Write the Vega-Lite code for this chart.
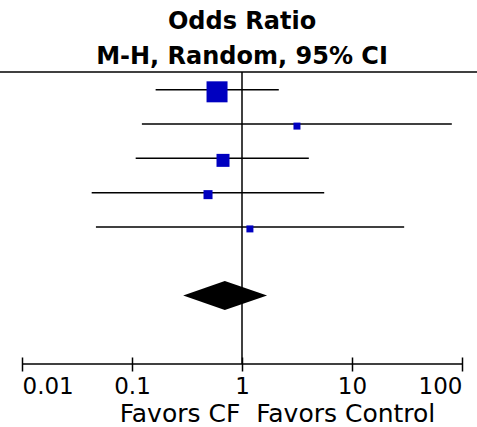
{
  "$schema": "https://vega.github.io/schema/vega-lite/v6.json",
  "width": 440,
  "height": 292,
  "autosize": {"type": "none"},
  "padding": {"left": 22, "top": 72, "right": 15, "bottom": 63},
  "background": "white",
  "config": {"view": {"stroke": null}, "font": "DejaVu Sans"},
  "title": {
    "text": ["Odds Ratio", "M-H, Random, 95% CI"],
    "font": "DejaVu Sans",
    "fontSize": 24,
    "fontWeight": "bold",
    "lineHeight": 35,
    "color": "black",
    "anchor": "middle",
    "offset": 2
  },
  "datasets": {
    "studies": [
      {"study": 1, "or": 0.593, "lo": 0.164, "hi": 2.16, "weight": 55.9},
      {"study": 2, "or": 3.16, "lo": 0.123, "hi": 80.8, "weight": 6.2},
      {"study": 3, "or": 0.672, "lo": 0.108, "hi": 4.05, "weight": 21.4},
      {"study": 4, "or": 0.491, "lo": 0.043, "hi": 5.59, "weight": 10.3},
      {"study": 5, "or": 1.18, "lo": 0.047, "hi": 29.8, "weight": 6.2}
    ],
    "pooled": [
      {"x": 0.292, "y": 7, "y2": 7},
      {"x": 0.698, "y": 6.577, "y2": 7.423},
      {"x": 1.69, "y": 7, "y2": 7}
    ],
    "one": [{}]
  },
  "layer": [
    {
      "data": {"name": "one"},
      "mark": {"type": "rule", "color": "black", "strokeWidth": 1.5, "clip": false},
      "encoding": {
        "x": {"datum": 0.0063, "type": "quantitative", "scale": {"type": "log", "domain": [0.01, 100], "nice": false},
          "axis": {
            "values": [0.01, 0.1, 1, 10, 100],
            "format": "~g",
            "domain": false,
            "grid": false,
            "offset": -7,
            "tickSize": 14,
            "tickWidth": 1.5,
            "tickColor": "black",
            "labelFont": "DejaVu Sans",
            "labelFontSize": 23,
            "labelColor": "black",
            "labelFlush": true,
            "labelPadding": 4,
            "title": "Favors CF\u00a0\u00a0Favors Control",
            "titleFont": "DejaVu Sans",
            "titleFontSize": 25,
            "titleFontWeight": "normal",
            "titleColor": "black",
            "titleX": 255,
            "titleY": 64,
            "titleAlign": "center",
            "titleBaseline": "alphabetic"
          }},
        "x2": {"datum": 137},
        "y": {"datum": 0.48, "type": "quantitative", "scale": {"domain": [0.48, 9], "reverse": true, "nice": false, "zero": false}, "axis": null}
      }
    },
    {
      "data": {"name": "one"},
      "mark": {"type": "rule", "color": "black", "strokeWidth": 1.5},
      "encoding": {
        "x": {"datum": 0.01, "type": "quantitative"},
        "x2": {"datum": 100},
        "y": {"datum": 9, "type": "quantitative"}
      }
    },
    {
      "data": {"name": "one"},
      "mark": {"type": "rule", "color": "black", "strokeWidth": 1.5},
      "encoding": {
        "x": {"datum": 1, "type": "quantitative"},
        "y": {"datum": 0.48, "type": "quantitative"},
        "y2": {"datum": 9}
      }
    },
    {
      "data": {"name": "studies"},
      "mark": {"type": "rule", "color": "black", "strokeWidth": 1.5},
      "encoding": {
        "x": {"field": "lo", "type": "quantitative"},
        "x2": {"field": "hi"},
        "y": {"field": "study", "type": "quantitative"}
      }
    },
    {
      "data": {"name": "studies"},
      "mark": {"type": "point", "shape": "square", "filled": true, "color": "#0000c0", "opacity": 1, "yOffset": 2},
      "encoding": {
        "x": {"field": "or", "type": "quantitative"},
        "y": {"field": "study", "type": "quantitative"},
        "size": {"field": "weight", "type": "quantitative", "scale": {"domain": [0, 100], "range": [0, 789]}, "legend": null}
      }
    },
    {
      "data": {"name": "pooled"},
      "mark": {"type": "area", "color": "black", "orient": "vertical", "opacity": 1},
      "encoding": {
        "x": {"field": "x", "type": "quantitative"},
        "y": {"field": "y", "type": "quantitative"},
        "y2": {"field": "y2"}
      }
    }
  ]
}
